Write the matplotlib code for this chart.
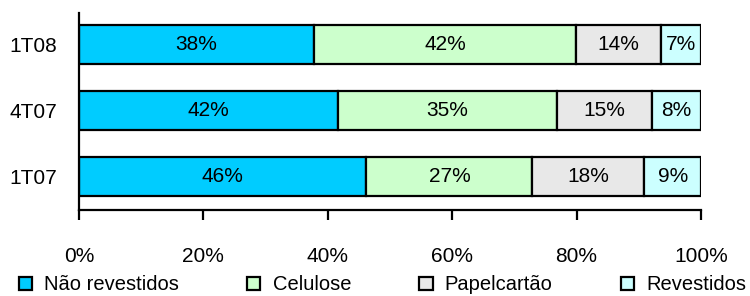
import matplotlib
matplotlib.use("Agg")
import matplotlib.pyplot as plt
from matplotlib.patches import Patch

plt.rcParams['font.family'] = ['Liberation Sans', 'DejaVu Sans']

periods = ["1T07", "4T07", "1T08"]
series = ["Não revestidos", "Celulose", "Papelcartão", "Revestidos"]
nao_revestidos = [46.2, 41.6, 37.8]
celulose = [26.7, 35.2, 42.1]
papelcartao = [18.0, 15.4, 13.6]
revestidos = [9.1, 7.8, 6.5]
labels = {
    "Não revestidos": ["46%", "42%", "38%"],
    "Celulose": ["27%", "35%", "42%"],
    "Papelcartão": ["18%", "15%", "14%"],
    "Revestidos": ["9%", "8%", "7%"],
}
xticks = [0, 20, 40, 60, 80, 100]
xticklabels = ["0%", "20%", "40%", "60%", "80%", "100%"]
colors = ["#00CCFF", "#CCFFCC", "#E8E8E8", "#CCFFFF"]

values = [nao_revestidos, celulose, papelcartao, revestidos]

fig = plt.figure(figsize=(7.5, 2.96), dpi=100)
ax = fig.add_axes([79/750, 1-210/296, 622/750, 197/296])

y = list(range(len(periods)))
left = [0.0]*len(periods)
for name, vals, c in zip(series, values, colors):
    bars = ax.barh(y, vals, left=left, height=0.59, color=c,
                   edgecolor="black", linewidth=1.6)
    for i, b in enumerate(bars):
        ax.text(left[i] + vals[i]/2, y[i], labels[name][i],
                ha="center", va="center", fontsize=15)
    left = [l + v for l, v in zip(left, vals)]

ax.set_xlim(0, 100)
ax.set_ylim(-0.5, 2.48)
ax.set_yticks(y)
ax.set_yticklabels(periods, fontsize=15)
ax.tick_params(axis="y", length=0, pad=16)
ax.set_xticks(xticks)
ax.set_xticklabels(xticklabels, fontsize=15)
ax.tick_params(axis="x", direction="out", length=7, width=1.6, pad=20)
for s in ["top", "right"]:
    ax.spines[s].set_visible(False)
for s in ["left", "bottom"]:
    ax.spines[s].set_linewidth(1.6)

handles = [Patch(facecolor=c, edgecolor="black", linewidth=1.6) for c in colors]
fig.legend(handles, series, loc="center", bbox_to_anchor=(0.51, 1-285/296),
           ncol=4, frameon=False, fontsize=14.5, handlelength=0.65, handleheight=0.65,
           handletextpad=0.6, columnspacing=3.4, borderpad=0, borderaxespad=0)

fig.savefig("out.png", dpi=100)
